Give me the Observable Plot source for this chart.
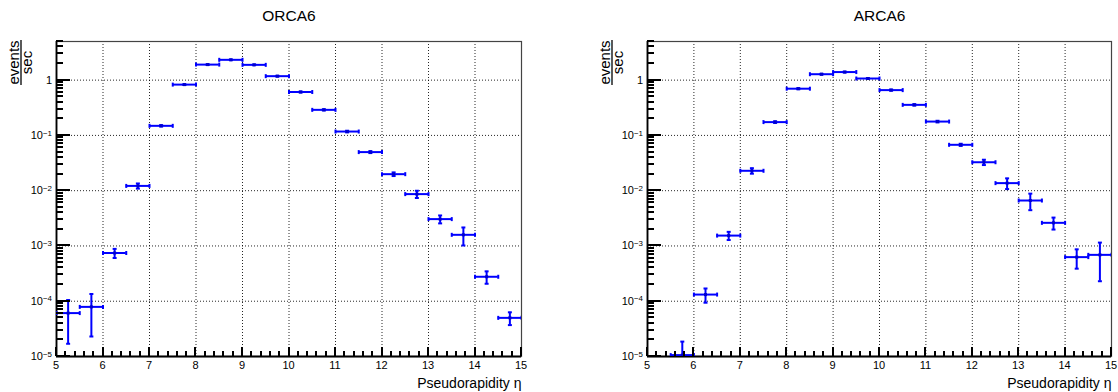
<!DOCTYPE html>
<html>
<head>
<meta charset="utf-8">
<script src="https://cdn.jsdelivr.net/npm/d3@7"></script>
<script src="https://cdn.jsdelivr.net/npm/@observablehq/plot@0.6"></script>
<style>
  html, body { margin: 0; padding: 0; background: white; }
  #fig { display: flex; width: 1118px; height: 392px; }
</style>
</head>
<body>
<div id="fig"></div>
<script>
// ---- data ----
const binEdges = [5, 5.5, 6, 6.5, 7, 7.5, 8, 8.5, 9, 9.5, 10, 10.5, 11, 11.5, 12, 12.5, 13, 13.5, 14, 14.5, 15];

const orcaRate = [6.1e-5, 7.9e-5, 7.45e-4, 0.0122, 0.149, 0.83, 1.91, 2.33, 1.89, 1.18, 0.61, 0.29, 0.1175, 0.0499, 0.0199, 0.00867, 0.00306, 0.00159, 2.77e-4, 5.0e-5];
const orcaErr  = [4.4e-5, 5.6e-5, 1.4e-4, 1.3e-3, 0.004, 0.012, 0.025, 0.028, 0.025, 0.018, 0.012, 0.007, 0.004, 0.002, 0.0015, 0.0013, 0.0005, 0.00057, 7e-5, 1.3e-5];

const arcaRate = [0, 1.06e-5, 1.32e-4, 1.54e-3, 0.0229, 0.174, 0.70, 1.28, 1.40, 1.07, 0.66, 0.357, 0.178, 0.0676, 0.0327, 0.0137, 0.00664, 0.00262, 6.28e-4, 6.9e-4];
const arcaErr  = [0, 8e-6, 3.8e-5, 2.6e-4, 0.0026, 0.006, 0.015, 0.022, 0.024, 0.02, 0.015, 0.01, 0.006, 0.003, 0.0036, 0.003, 0.0022, 0.00064, 2.4e-4, 4.6e-4];

const titles = ["ORCA6", "ARCA6"];
const xLabel = "Pseudorapidity η";
const yLabelNum = "events";
const yLabelDen = "sec";

const xMajor = [5, 6, 7, 8, 9, 10, 11, 12, 13, 14, 15];
const xGrid = [6, 7, 8, 9, 10, 11, 12, 13, 14];
const yMajor = [1e-5, 1e-4, 1e-3, 1e-2, 1e-1, 1];
const yExp = ["−5", "−4", "−3", "−2", "−1", ""];
const yGrid = [1e-4, 1e-3, 1e-2, 1e-1, 1];

// minor ticks (axis decoration)
const xMinor = [];
for (let i = 0; i < xMajor.length - 1; i++) for (let k = 1; k < 5; k++) xMinor.push(+(xMajor[i] + k * 0.2).toFixed(2));
const yMinor = [];
for (const d of yMajor) for (let k = 2; k <= 9; k++) { const v = k * d; if (v <= 5) yMinor.push(v); }

// ---- drawing ----
const W = 559, H = 392, MT = 41, MB = 36;
const BLUE = "#0000ff";
const FONT = "'Liberation Sans', Arial, Helvetica, sans-serif";

const hCap = {draw(ctx, size) { const h = Math.sqrt(size / Math.PI); ctx.moveTo(-h, 0); ctx.lineTo(h, 0); }};
const vCap = {draw(ctx, size) { const h = Math.sqrt(size / Math.PI); ctx.moveTo(0, -h); ctx.lineTo(0, h); }};

function panel(title, rate, err, ml, mr) {
  const pts = [];
  for (let i = 0; i < rate.length; i++) {
    if (!(rate[i] > 0)) continue;
    const x1 = binEdges[i], x2 = binEdges[i + 1];
    pts.push({c: (x1 + x2) / 2, x1, x2, v: rate[i], lo: rate[i] - err[i], hi: rate[i] + err[i]});
  }
  const svg = Plot.plot({
    width: W, height: H,
    marginLeft: ml, marginRight: mr, marginTop: MT, marginBottom: MB,
    style: {fontFamily: FONT, fontSize: "11px", background: "white", overflow: "visible", color: "#000"},
    x: {type: "linear", domain: [5, 15], axis: null},
    y: {type: "log", domain: [1e-5, 5], axis: null},
    marks: [
      Plot.gridX(xGrid, {stroke: "#000", strokeOpacity: 0.85, strokeDasharray: "1,2"}),
      Plot.gridY(yGrid, {stroke: "#000", strokeOpacity: 0.85, strokeDasharray: "1,2"}),
      Plot.frame({stroke: "#444", strokeWidth: 1.2}),
      Plot.ruleX([5], {stroke: "#000", strokeWidth: 1.8}),
      Plot.ruleY([1e-5], {stroke: "#000", strokeWidth: 1.8}),
      // data: horizontal bin bars, vertical error bars, caps, markers
      Plot.ruleY(pts, {y: "v", x1: "x1", x2: "x2", stroke: BLUE, strokeWidth: 2, clip: true}),
      Plot.ruleX(pts, {x: "c", y1: "lo", y2: "hi", stroke: BLUE, strokeWidth: 2, clip: true}),
      Plot.dot(pts, {x: "c", y: "hi", symbol: hCap, r: 2, stroke: BLUE, strokeWidth: 2, fill: "none", clip: true}),
      Plot.dot(pts, {x: "c", y: "lo", symbol: hCap, r: 2, stroke: BLUE, strokeWidth: 2, fill: "none", clip: true}),
      Plot.dot(pts, {x: "x1", y: "v", symbol: vCap, r: 2, stroke: BLUE, strokeWidth: 2, fill: "none", clip: true}),
      Plot.dot(pts, {x: "x2", y: "v", symbol: vCap, r: 2, stroke: BLUE, strokeWidth: 2, fill: "none", clip: true}),
      Plot.dot(pts, {x: "c", y: "v", symbol: "square", r: 1.7, fill: "#0000cc", stroke: "none", clip: true}),
      Plot.text([title], {frameAnchor: "top", dy: -21, lineAnchor: "bottom", fontSize: 15.5}),
      Plot.text([xLabel], {frameAnchor: "bottom-right", textAnchor: "end", dy: 31, lineAnchor: "bottom", fontSize: 14})
    ]
  });

  // axis ticks and labels, positioned through Plot's own scales
  const sx = svg.scale("x"), sy = svg.scale("y");
  const x0 = ml, yB = H - MB;
  const ax = d3.select(svg).append("g").attr("shape-rendering", "crispEdges");
  const tickLine = (a, b, c, d) => ax.append("path")
      .attr("d", `M${a},${b}L${c},${d}`)
      .attr("stroke", "#000").attr("stroke-width", 2).attr("fill", "none");
  for (const t of xMajor) { const px = Math.round(sx.apply(t)); tickLine(px, yB, px, yB - 9.5); }
  for (const t of xMinor) { const px = Math.round(sx.apply(t)); tickLine(px, yB, px, yB - 5); }
  for (const t of yMajor) { const py = Math.round(sy.apply(t)); tickLine(x0, py, x0 + 14, py); }
  for (const t of yMinor) { const py = Math.round(sy.apply(t)); tickLine(x0, py, x0 + 7, py); }

  const lab = d3.select(svg).append("g").attr("font-family", FONT).attr("font-size", 11).attr("fill", "#000");
  for (const t of xMajor) {
    lab.append("text").attr("x", sx.apply(t)).attr("y", yB + 13).attr("text-anchor", "middle").text(String(t));
  }
  yMajor.forEach((t, i) => {
    const py = sy.apply(t);
    const tx = lab.append("text").attr("x", x0 - 4).attr("y", py + 4).attr("text-anchor", "end");
    if (yExp[i] === "") { tx.text("1"); return; }
    tx.append("tspan").text("10");
    tx.append("tspan").attr("dy", "-0.42em").attr("font-size", "0.72em").text(yExp[i]);
  });

  // fraction y-axis label
  const g = d3.select(svg).append("g").attr("font-family", FONT).attr("font-size", 15).attr("fill", "#000");
  g.append("text").attr("transform", `translate(${ml - 37},62.5) rotate(-90)`).attr("text-anchor", "middle").text(yLabelNum);
  g.append("line").attr("x1", ml - 35).attr("x2", ml - 35).attr("y1", 40).attr("y2", 85).attr("stroke", "#000").attr("stroke-width", 1.3);
  g.append("text").attr("transform", `translate(${ml - 24.5},62.5) rotate(-90)`).attr("text-anchor", "middle").text(yLabelDen);
  return svg;
}

const fig = document.getElementById("fig");
fig.appendChild(panel(titles[0], orcaRate, orcaErr, 56, 38));
fig.appendChild(panel(titles[1], arcaRate, arcaErr, 88, 7));
</script>
</body>
</html>
